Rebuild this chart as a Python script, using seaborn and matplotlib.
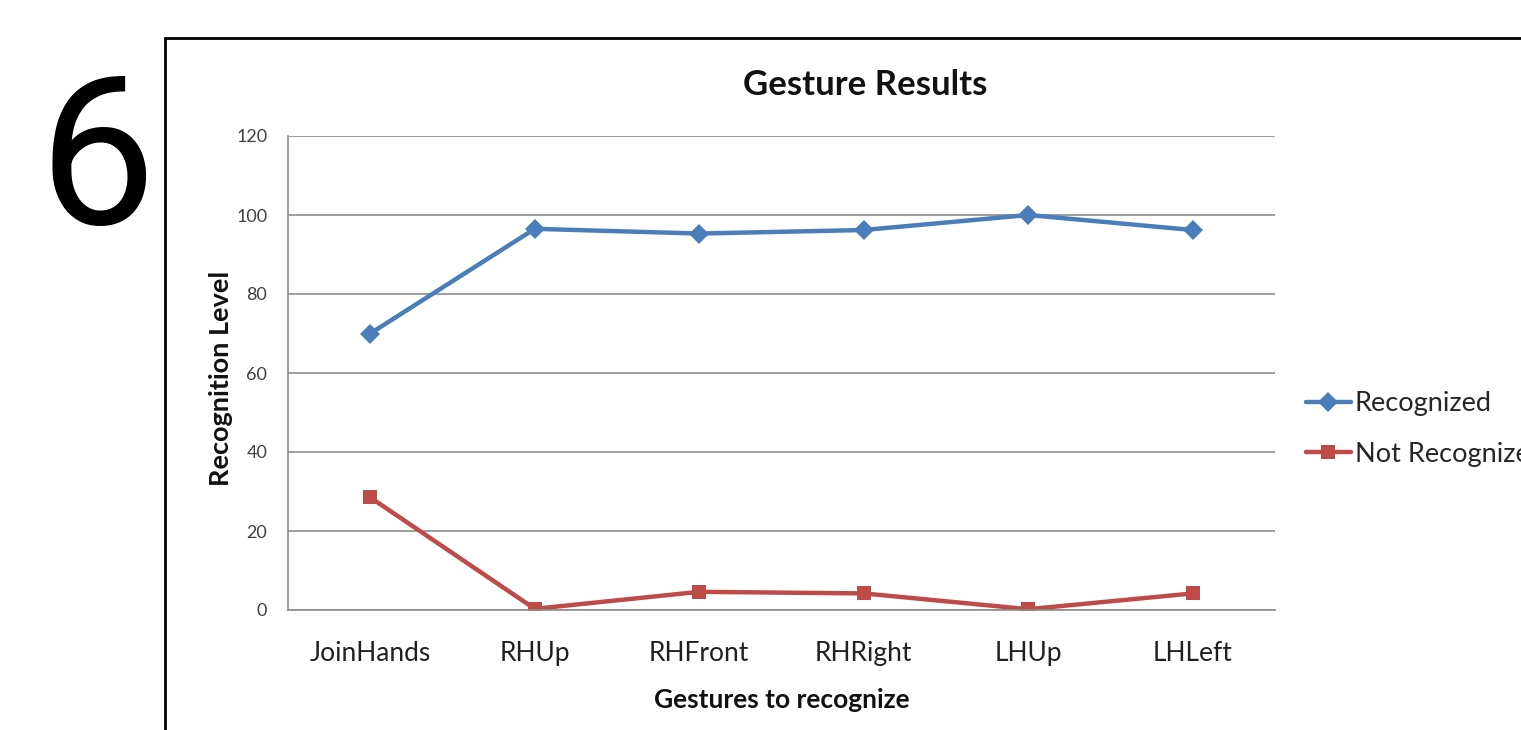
import matplotlib
matplotlib.use("Agg")
import matplotlib.pyplot as plt
import matplotlib.patches as mpatches
import seaborn as sns
import pandas as pd

categories = ["JoinHands", "RHUp", "RHFront", "RHRight", "LHUp", "LHLeft"]
recognized = [70.0, 96.5, 95.3, 96.2, 100.0, 96.2]
not_recognized = [28.5, 0.3, 4.6, 4.2, 0.2, 4.2]
series_names = ["Recognized", "Not Recognized"]
y_ticks = [0, 20, 40, 60, 80, 100, 120]

df = pd.DataFrame({
    "Gesture": categories * 2,
    "Value": recognized + not_recognized,
    "Series": [series_names[0]] * len(categories) + [series_names[1]] * len(categories),
})

sns.set_style("white")
plt.rcParams["font.family"] = ["Lato", "DejaVu Sans"]

W, H = 1521, 730
fig = plt.figure(figsize=(W / 100, H / 100), dpi=100)
ax = fig.add_axes([288 / W, 1 - 610 / H, (1275 - 288) / W, (610 - 136) / H])

palette = {"Recognized": "#4A7EBB", "Not Recognized": "#BE4B48"}
sns.lineplot(data=df, x="Gesture", y="Value", hue="Series", style="Series",
             markers={"Recognized": "D", "Not Recognized": "s"},
             dashes=False, palette=palette, linewidth=3.2, markersize=10,
             markeredgewidth=0, sort=False, ax=ax)

ax.set_xlim(-0.5, len(categories) - 0.5)
ax.set_ylim(0, 120)
ax.set_yticks(y_ticks)
ax.set_yticklabels([str(t) for t in y_ticks], fontsize=13, color="#404040")
ax.tick_params(axis="y", length=0, pad=15)
ax.tick_params(axis="x", length=0, pad=22, labelsize=19, labelcolor="#202020")
ax.grid(axis="y", color="#8C8C8C", linewidth=1.2)
ax.grid(axis="x", visible=False)
for s in ["top", "right"]:
    ax.spines[s].set_visible(False)
for s in ["left", "bottom"]:
    ax.spines[s].set_color("#8C8C8C")
    ax.spines[s].set_linewidth(1.2)

ax.set_xlabel("Gestures to recognize", fontsize=19, fontweight="bold", color="#111111")
ax.set_ylabel("Recognition Level", fontsize=19.5, fontweight="bold", color="#111111")
ax.xaxis.set_label_coords((782 - 288) / 987, (610 - 688) / 474)
ax.yaxis.set_label_coords((233 - 288) / 987, (610 - 378) / 474)

ax.get_legend().remove()
handles, labels = ax.get_legend_handles_labels()
leg = fig.legend(handles, labels, loc="center left",
                 bbox_to_anchor=(1306 / W, 1 - 429 / H), frameon=False,
                 fontsize=19.5, handlelength=1.65, handletextpad=0.15,
                 labelspacing=0.95, borderpad=0, borderaxespad=0)

fig.text(865 / W, 1 - 85 / H, "Gesture Results", ha="center", va="center",
         fontsize=25, fontweight="bold", color="#111111")

fig.text(97 / W, 1 - 224 / H, "6", ha="center", va="baseline",
         fontsize=150, color="black",
         family=["Liberation Sans Narrow", "Roboto", "DejaVu Sans"])

rect = mpatches.Rectangle((165 / W, -0.1), 1.2, 1 - 38 / H + 0.1,
                          transform=fig.transFigure, fill=False,
                          edgecolor="black", linewidth=2, clip_on=False)
fig.patches.append(rect)

fig.savefig("out.png", dpi=100)
